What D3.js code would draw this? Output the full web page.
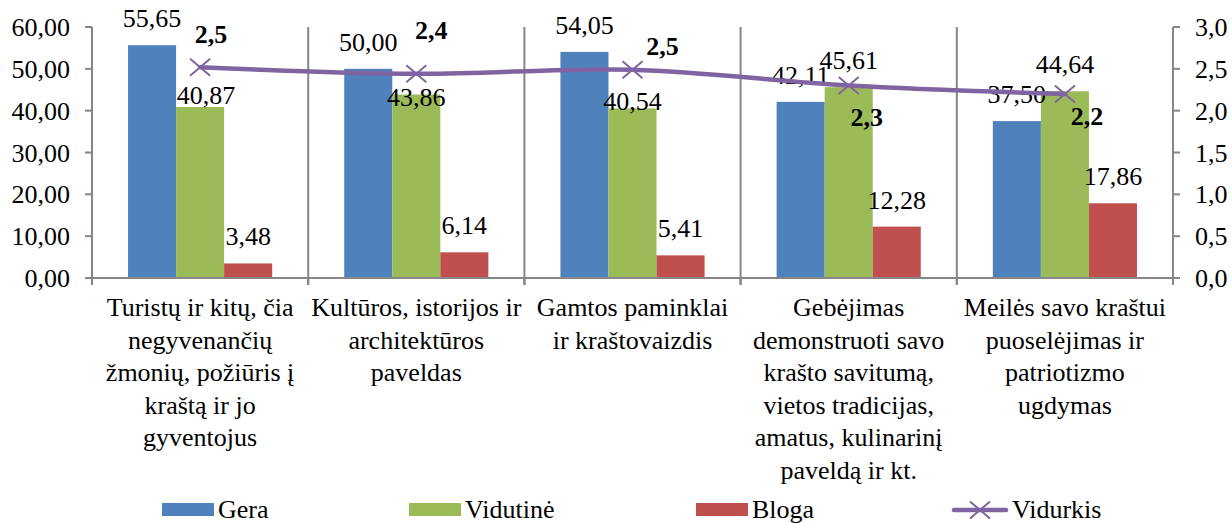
<!DOCTYPE html>
<html>
<head>
<meta charset="utf-8">
<script src="https://cdn.jsdelivr.net/npm/d3@7"></script>
<style>
  html, body { margin: 0; padding: 0; background: #fff; }
  svg text { font-family: "Liberation Serif", "Times New Roman", serif; }
</style>
</head>
<body style="margin:0">
<svg id="chart" width="1232" height="523"></svg>
<script>
// categories, each split into the lines shown under the axis
const categories = [
    ["Turistų ir kitų, čia", "negyvenančių", "žmonių, požiūris į", "kraštą ir jo", "gyventojus"],
    ["Kultūros, istorijos ir", "architektūros", "paveldas"],
    ["Gamtos paminklai", "ir kraštovaizdis"],
    ["Gebėjimas", "demonstruoti savo", "krašto savitumą,", "vietos tradicijas,", "amatus, kulinarinį", "paveldą ir kt."],
    ["Meilės savo kraštui", "puoselėjimas ir", "patriotizmo", "ugdymas"]
];
const seriesNames = ["Gera", "Vidutinė", "Bloga"];
const gera = [55.65, 50.00, 54.05, 42.11, 37.50];
const vidutine = [40.87, 43.86, 40.54, 45.61, 44.64];
const bloga = [3.48, 6.14, 5.41, 12.28, 17.86];
const lineName = "Vidurkis";
const vidurkis = [2.52, 2.44, 2.49, 2.30, 2.20];
const leftTicks = [0, 10, 20, 30, 40, 50, 60];
const rightTicks = [0, 0.5, 1, 1.5, 2, 2.5, 3];

const plot = { left: 92, right: 1173, top: 27, bottom: 278 };
const colors = ["#4F81BD", "#9BBB59", "#C0504D"];
const lineColor = "#8064A2";
const axisColor = "#868686";
const fontSize = 26;

// label nudges (layout only): bar labels moved off the line, avg label offsets
const barLabelNudge = [
    [[0, 0], [6, 15], [0, 0]],
    [[0, 0], [0, 29], [0, 0]],
    [[0, 0], [0, 19.5], [0, 0]],
    [[0, 0], [0, 0], [0, 0]],
    [[0, 0], [0, 0], [0, 0]]
];
const avgLabelOffset = [[11, -24], [15, -35], [30, -15], [18, 40], [22, 31]];
const legendX = [162, 409, 696, 952];

const fmt2 = v => v.toFixed(2).replace(".", ",");
const fmt1 = v => v.toFixed(1).replace(".", ",");

const textStyle = sel => sel
    .attr("font-family", "Liberation Serif")
    .attr("font-size", fontSize)
    .attr("fill", "#000");

const svg = d3.select("#chart");

const xScale = d3.scaleBand()
    .domain(d3.range(categories.length))
    .range([plot.left, plot.right])
    .padding(0);

const xInner = d3.scaleBand()
    .domain(d3.range(seriesNames.length))
    .range([0, xScale.bandwidth()])
    .paddingInner(0)
    .paddingOuter(0.75);

const yLeft = d3.scaleLinear().domain([0, 60]).range([plot.bottom, plot.top]);
const yRight = d3.scaleLinear().domain([0, 3]).range([plot.bottom, plot.top]);

// vertical separators between categories
svg.append("g")
    .selectAll("line")
    .data(d3.range(1, categories.length))
    .join("line")
    .attr("x1", i => xScale(i)).attr("x2", i => xScale(i))
    .attr("y1", plot.top).attr("y2", plot.bottom + 7)
    .attr("stroke", axisColor)
    .attr("stroke-width", 2);

// bars
const barData = categories.map((c, ci) => [gera[ci], vidutine[ci], bloga[ci]]);
const groups = svg.append("g")
    .selectAll("g")
    .data(barData)
    .join("g")
    .attr("transform", (d, i) => `translate(${xScale(i)},0)`);

groups.selectAll("rect")
    .data(d => d)
    .join("rect")
    .attr("x", (d, si) => xInner(si))
    .attr("width", xInner.bandwidth())
    .attr("y", d => yLeft(d))
    .attr("height", d => yLeft(0) - yLeft(d))
    .attr("fill", (d, si) => colors[si]);

// left axis
const leftAxis = svg.append("g");
leftAxis.append("line")
    .attr("x1", plot.left).attr("x2", plot.left)
    .attr("y1", plot.top).attr("y2", plot.bottom)
    .attr("stroke", axisColor).attr("stroke-width", 2);
leftAxis.selectAll(".tick")
    .data(leftTicks)
    .join("line")
    .attr("x1", plot.left - 7).attr("x2", plot.left)
    .attr("y1", d => yLeft(d)).attr("y2", d => yLeft(d))
    .attr("stroke", axisColor).attr("stroke-width", 2);
leftAxis.selectAll("text")
    .data(leftTicks)
    .join("text")
    .call(textStyle)
    .attr("x", 70)
    .attr("y", d => yLeft(d) + 9)
    .attr("text-anchor", "end")
    .text(d => fmt2(d));

// right axis
const rightAxis = svg.append("g");
rightAxis.append("line")
    .attr("x1", plot.right).attr("x2", plot.right)
    .attr("y1", plot.top).attr("y2", plot.bottom)
    .attr("stroke", axisColor).attr("stroke-width", 2);
rightAxis.selectAll(".tick")
    .data(rightTicks)
    .join("line")
    .attr("x1", plot.right).attr("x2", plot.right + 7)
    .attr("y1", d => yRight(d)).attr("y2", d => yRight(d))
    .attr("stroke", axisColor).attr("stroke-width", 2);
rightAxis.selectAll("text")
    .data(rightTicks)
    .join("text")
    .call(textStyle)
    .attr("x", 1195)
    .attr("y", d => yRight(d) + 9)
    .attr("text-anchor", "start")
    .text(d => fmt1(d));

// bottom axis
const bottomAxis = svg.append("g");
bottomAxis.append("line")
    .attr("x1", plot.left).attr("x2", plot.right)
    .attr("y1", plot.bottom).attr("y2", plot.bottom)
    .attr("stroke", axisColor).attr("stroke-width", 2);
bottomAxis.selectAll(".tick")
    .data(d3.range(categories.length + 1))
    .join("line")
    .attr("x1", i => plot.left + i * xScale.step()).attr("x2", i => plot.left + i * xScale.step())
    .attr("y1", plot.bottom).attr("y2", plot.bottom + 7)
    .attr("stroke", axisColor).attr("stroke-width", 2);

// category labels, one text per line
svg.append("g")
    .selectAll("text")
    .data(categories.flatMap((lines, i) => lines.map((txt, li) => ({ txt, li, i }))))
    .join("text")
    .call(textStyle)
    .attr("text-anchor", "middle")
    .attr("x", d => xScale(d.i) + xScale.bandwidth() / 2)
    .attr("y", d => 316 + d.li * 32.5)
    .text(d => d.txt);

// bar value labels
groups.each(function (d, ci) {
    d3.select(this).selectAll("text")
        .data(d)
        .join("text")
        .call(textStyle)
        .attr("x", (v, si) => xInner(si) + xInner.bandwidth() / 2 + barLabelNudge[ci][si][0])
        .attr("y", (v, si) => yLeft(v) - 18 + barLabelNudge[ci][si][1])
        .attr("text-anchor", "middle")
        .text(v => fmt2(v));
});

// average line (smoothed, like the original)
const cx = i => xScale(i) + xScale.bandwidth() / 2;
const avgLine = d3.line()
    .x((d, i) => cx(i))
    .y(d => yRight(d))
    .curve(d3.curveCatmullRom.alpha(0.5));

svg.append("path")
    .datum(vidurkis)
    .attr("d", avgLine)
    .attr("fill", "none")
    .attr("stroke", lineColor)
    .attr("stroke-width", 4.5)
    .attr("stroke-linecap", "round");

const crossPath = s => `M${-s},${-s * 0.85}L${s},${s * 0.85}M${-s},${s * 0.85}L${s},${-s * 0.85}`;

svg.append("g")
    .selectAll("path")
    .data(vidurkis)
    .join("path")
    .attr("transform", (d, i) => `translate(${cx(i)},${yRight(d)})`)
    .attr("d", crossPath(10))
    .attr("stroke", lineColor)
    .attr("stroke-width", 2)
    .attr("fill", "none");

svg.append("g")
    .selectAll("text")
    .data(vidurkis)
    .join("text")
    .call(textStyle)
    .attr("x", (d, i) => cx(i) + avgLabelOffset[i][0])
    .attr("y", (d, i) => yRight(d) + avgLabelOffset[i][1])
    .attr("text-anchor", "middle")
    .attr("font-weight", "bold")
    .text(d => fmt1(d));

// legend
const legendY = 510;
const legend = svg.append("g");
seriesNames.forEach((name, si) => {
    const g = legend.append("g").attr("transform", `translate(${legendX[si]},${legendY})`);
    g.append("rect")
        .attr("x", 0).attr("y", -7)
        .attr("width", 52).attr("height", 13)
        .attr("fill", colors[si]);
    g.append("text")
        .call(textStyle)
        .attr("x", 56).attr("y", 8)
        .text(name);
});
const lg = legend.append("g").attr("transform", `translate(${legendX[3]},${legendY})`);
lg.append("line")
    .attr("x1", 2).attr("x2", 54)
    .attr("y1", 0).attr("y2", 0)
    .attr("stroke", lineColor).attr("stroke-width", 4.5)
    .attr("stroke-linecap", "round");
lg.append("path")
    .attr("transform", "translate(28,0)")
    .attr("d", crossPath(10))
    .attr("stroke", lineColor).attr("stroke-width", 2).attr("fill", "none");
lg.append("text")
    .call(textStyle)
    .attr("x", 60).attr("y", 8)
    .text(lineName);
</script>
</body>
</html>
